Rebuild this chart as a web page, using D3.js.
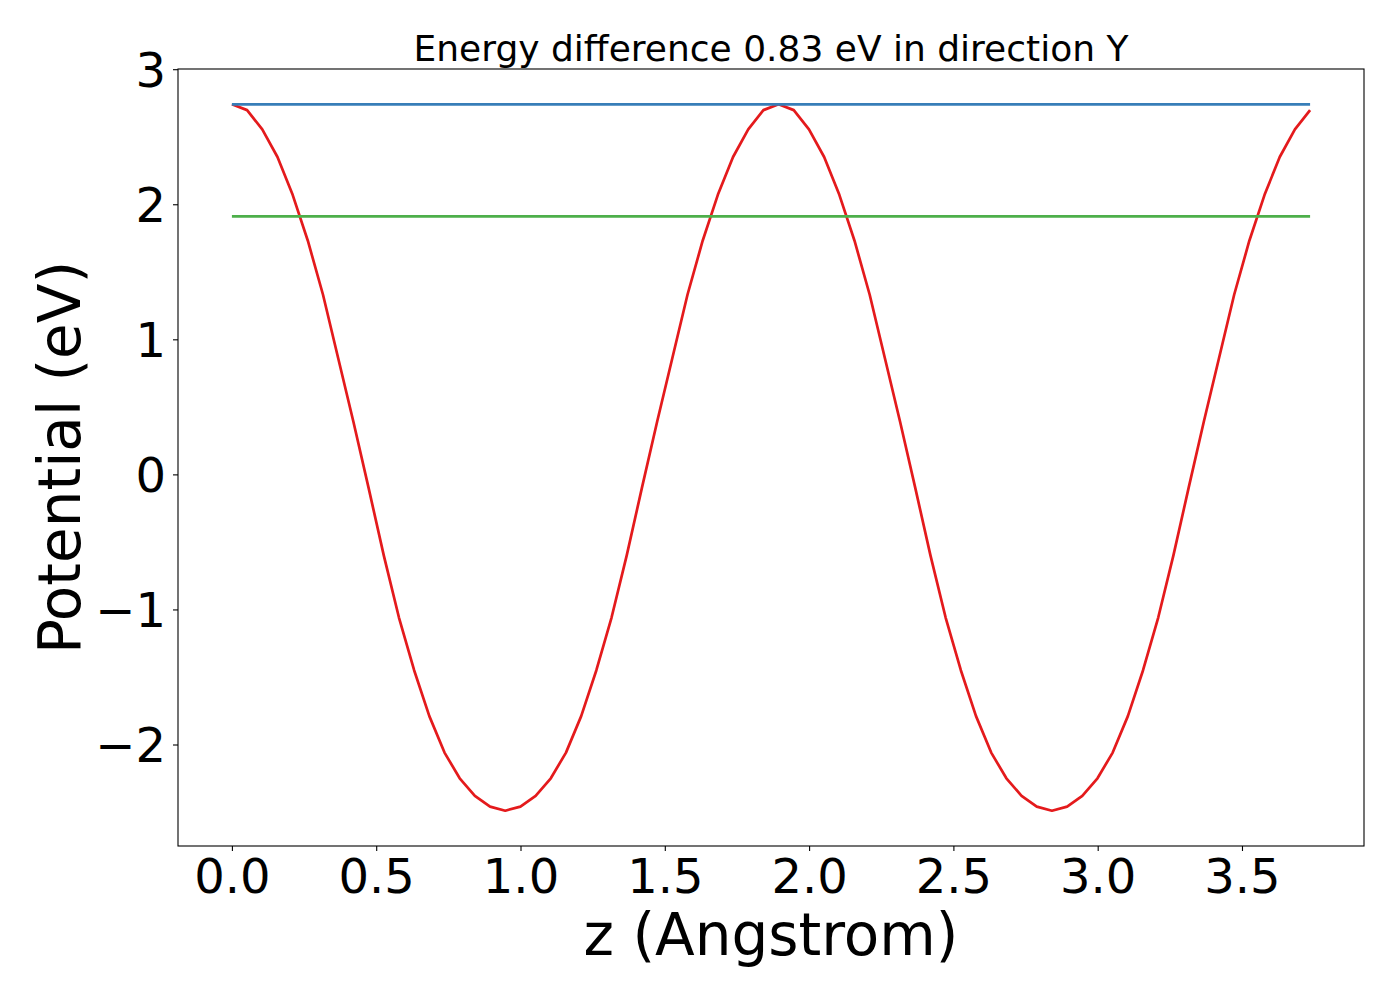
<!DOCTYPE html>
<html>
<head>
<meta charset="utf-8">
<script src="https://cdn.jsdelivr.net/npm/d3@7"></script>
<style>
  body { margin: 0; background: #fff; }
  svg { display: block; }
</style>
</head>
<body>
<div id="chart"></div>
<script>
// Sample positions along z (Angstrom)
const zValues = [
  0.0000, 0.0526, 0.1052, 0.1579, 0.2105, 0.2631, 0.3157, 0.3683, 0.4210, 0.4736,
  0.5262, 0.5788, 0.6314, 0.6841, 0.7367, 0.7893, 0.8419, 0.8945, 0.9472, 0.9998,
  1.0524, 1.1050, 1.1576, 1.2103, 1.2629, 1.3155, 1.3681, 1.4207, 1.4734, 1.5260,
  1.5786, 1.6312, 1.6838, 1.7365, 1.7891, 1.8417, 1.8943, 1.9469, 1.9996, 2.0522,
  2.1048, 2.1574, 2.2100, 2.2627, 2.3153, 2.3679, 2.4205, 2.4731, 2.5258, 2.5784,
  2.6310, 2.6836, 2.7362, 2.7889, 2.8415, 2.8941, 2.9467, 2.9993, 3.0520, 3.1046,
  3.1572, 3.2098, 3.2624, 3.3151, 3.3677, 3.4203, 3.4729, 3.5255, 3.5782, 3.6308,
  3.6834, 3.7360
];

// Potential (eV)
const potential = [
  2.740, 2.697, 2.554, 2.350, 2.070, 1.730, 1.330, 0.860, 0.390, -0.100,
  -0.600, -1.060, -1.450, -1.790, -2.060, -2.250, -2.380, -2.460, -2.490, -2.460,
  -2.380, -2.250, -2.060, -1.790, -1.450, -1.060, -0.600, -0.100, 0.390, 0.860,
  1.330, 1.730, 2.070, 2.350, 2.554, 2.697, 2.740, 2.697, 2.554, 2.350,
  2.070, 1.730, 1.330, 0.860, 0.390, -0.100, -0.600, -1.060, -1.450, -1.790,
  -2.060, -2.250, -2.380, -2.460, -2.490, -2.460, -2.380, -2.250, -2.060, -1.790,
  -1.450, -1.060, -0.600, -0.100, 0.390, 0.860, 1.330, 1.730, 2.070, 2.350,
  2.554, 2.697
];

// Reference levels: barrier top and the lower level
const levelTop = 2.74;
const levelLow = 1.91;
const energyDiff = 0.83;
const direction = "Y";

const xTicks = [0.0, 0.5, 1.0, 1.5, 2.0, 2.5, 3.0, 3.5];
const yTicks = [-2, -1, 0, 1, 2, 3];

// Dimensions
const margin = { top: 69, right: 36, bottom: 154, left: 178 };
const width = 1400 - margin.left - margin.right;
const height = 1000 - margin.top - margin.bottom;

const svg = d3.select("#chart")
  .append("svg")
  .attr("width", 1400)
  .attr("height", 1000)
  .style("font-family", "'DejaVu Sans', sans-serif");

svg.append("rect")
  .attr("width", 1400)
  .attr("height", 1000)
  .attr("fill", "#fff");

const g = svg.append("g")
  .attr("transform", `translate(${margin.left},${margin.top})`);

const data = zValues.map((z, i) => ({ z: z, v: potential[i] }));

// Scales with matplotlib-like 5% margins
const xExt = d3.extent(zValues);
const xPad = (xExt[1] - xExt[0]) * 0.05;
const x = d3.scaleLinear()
  .domain([xExt[0] - xPad, xExt[1] + xPad])
  .range([0, width]);

const yExt = d3.extent(potential);
const yPad = (yExt[1] - yExt[0]) * 0.05;
const y = d3.scaleLinear()
  .domain([yExt[0] - yPad, yExt[1] + yPad])
  .range([height, 0]);

// Potential curve
const line = d3.line()
  .x(d => x(d.z))
  .y(d => y(d.v));

g.append("path")
  .datum(data)
  .attr("fill", "none")
  .attr("stroke", "#e41a1c")
  .attr("stroke-width", 2.7)
  .attr("stroke-linejoin", "round")
  .attr("d", line);

// Horizontal levels
[[levelTop, "#377eb8"], [levelLow, "#4daf4a"]].forEach(([lv, col]) => {
  g.append("line")
    .attr("x1", x(xExt[0])).attr("x2", x(xExt[1]))
    .attr("y1", y(lv)).attr("y2", y(lv))
    .attr("stroke", col)
    .attr("stroke-width", 2.7);
});

// Axes
const xAxis = g.append("g")
  .attr("transform", `translate(0,${height})`)
  .call(d3.axisBottom(x).tickValues(xTicks).tickFormat(d3.format(".1f"))
    .tickSize(5).tickSizeOuter(0).tickPadding(8));

const yAxis = g.append("g")
  .call(d3.axisLeft(y).tickValues(yTicks).tickFormat(d3.format("d"))
    .tickSize(5).tickSizeOuter(0).tickPadding(7));

[xAxis, yAxis].forEach(ax => {
  ax.select(".domain").remove();
  ax.selectAll("line").attr("stroke", "#000").attr("stroke-width", 1.1);
  ax.selectAll("text")
    .attr("fill", "#000")
    .style("font-family", "'DejaVu Sans', sans-serif")
    .style("font-size", "48px");
});
yAxis.selectAll("text").attr("dy", "0.36em");

// Frame
g.append("rect")
  .attr("width", width)
  .attr("height", height)
  .attr("fill", "none")
  .attr("stroke", "#000")
  .attr("stroke-width", 1.1);

// Title
g.append("text")
  .attr("x", width / 2)
  .attr("y", -8)
  .attr("text-anchor", "middle")
  .style("font-size", "36px")
  .text(`Energy difference ${energyDiff} eV in direction ${direction}`);

// x-axis label
g.append("text")
  .attr("x", width / 2)
  .attr("y", height + 109)
  .attr("text-anchor", "middle")
  .style("font-size", "58px")
  .text("z (Angstrom)");

// y-axis label
g.append("text")
  .attr("transform", "rotate(-90)")
  .attr("x", -height / 2)
  .attr("y", 80 - margin.left)
  .attr("text-anchor", "middle")
  .style("font-size", "58px")
  .text("Potential (eV)");
</script>
</body>
</html>
